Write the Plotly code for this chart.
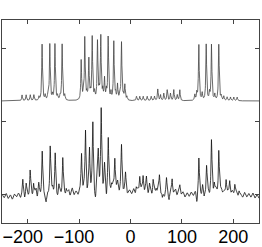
import numpy as np
import plotly.graph_objects as go

# ---------------- data ----------------
x_ticks = [-200, -100, 0, 100, 200]
x_ticktext = ["\u2212200\u00a0\u00a0", "\u2212100\u00a0\u00a0", "0", "100", "200"]

# top (clean) spectrum: baseline level and peaks (position, height)
top_base = 1.288
top_pos = [-211, -203, -195, -188, -178, -172, -166, -161, -157, -152, -147, -142, -137, -133, -128,
           -95.9, -92, -88.9, -85, -81.1, -78, -74.5, -70, -64.2, -61, -57.8, -54, -50.6, -47, -43.4,
           -38, -32.5, -29, -25.3, -21, -17.5, -14, -11.1, -7,
           11.7, 18.1, 24.7, 32.5, 40.3, 46.7, 53.1, 58.4, 64.8, 71.4, 77.8, 84.2, 90.9, 95.9,
           125.1, 129, 132.9, 139.4, 147.3, 153.7, 157.6, 164, 171.8, 176.4, 181.6, 188, 194.6, 201, 207.5]
top_h = [0.08, 0.08, 0.08, 0.08, 0.05, 0.77, 0.07, 0.06, 0.77, 0.07, 0.77, 0.06, 0.06, 0.77, 0.07,
         0.55, 0.08, 0.86, 0.08, 0.56, 0.08, 0.86, 0.10, 0.80, 0.10, 0.87, 0.12, 0.29, 0.12, 0.87,
         0.10, 0.80, 0.08, 0.21, 0.08, 0.79, 0.06, 0.21, 0.05,
         0.06, 0.06, 0.06, 0.06, 0.06, 0.06, 0.16, 0.08, 0.10, 0.15, 0.10, 0.15, 0.08, 0.15,
         0.08, 0.10, 0.77, 0.10, 0.77, 0.10, 0.77, 0.08, 0.77, 0.06, 0.06, 0.05, 0.05, 0.05, 0.05]

# bottom (noisy) spectrum: peaks / dips (position, height)
bot_base = -0.02
bot_pos = [-209.5, -203, -195.2, -188.7, -183.5, -178.4, -171.8, -164, -156.2, -151.1, -146.5, -139.5,
           -131.7, -125.1, -120, -113,
           -95.3, -87.5, -84, -79.8, -73.3, -68, -62.8, -57, -50.6, -47, -43.4, -37, -30.5, -25,
           -17.5, -9.7,
           11, 18.1, 24.6, 31, 37, 44, 50, 56.4, 62, 70, 75, 81, 88, 96,
           129, 133, 140, 143, 148, 157.6, 163, 171.8, 177, 186, 193, 203, 211]
bot_h = [0.21, 0.14, 0.32, 0.18, 0.11, 0.15, 0.60, -0.10, 0.67, 0.10, 0.55, 0.12,
         0.50, 0.10, 0.06, 0.05,
         0.55, 0.86, -0.06, 0.59, 0.89, -0.14, 0.58, 1.07, 0.32, -0.10, 0.71, 0.10, 0.48, 0.10,
         0.59, 0.23,
         0.10, 0.23, 0.23, 0.18, 0.10, 0.18, 0.08, 0.26, -0.10, 0.18, -0.08, 0.23, 0.06, 0.12,
         -0.10, 0.48, 0.12, -0.10, 0.38, 0.71, 0.15, 0.59, 0.08, 0.23, 0.20, 0.15, 0.08]

# broad baseline humps of the bottom spectrum (centre, height, width)
hump_pos = [-52, 45, 170]
hump_h = [0.06, 0.04, 0.03]
hump_w = [45, 50, 40]

# baseline wiggles of the bottom spectrum, one value every 4 units from -250 to 250
noise = [
    0.03, -0.02, 0.04, -0.03, 0.02, -0.04, 0.03, -0.01, 0.04, -0.03,
    0.02, -0.05, 0.04, -0.02, 0.05, -0.04, 0.03, -0.06, 0.02, -0.03,
    0.04, -0.05, 0.03, -0.02, 0.05, -0.03, 0.02, -0.05, 0.04, -0.02,
    0.03, -0.04, 0.02, -0.03, 0.04, -0.02, 0.03, -0.03, 0.02, -0.04,
    0.05, -0.06, 0.04, -0.05, 0.06, -0.07, 0.05, -0.04, 0.06, -0.05,
    0.04, -0.06, 0.05, -0.04, 0.06, -0.05, 0.03, -0.04, 0.05, -0.03,
    0.03, -0.04, 0.02, -0.03, 0.04, -0.05, 0.03, -0.02, 0.04, -0.03,
    0.05, -0.04, 0.03, -0.05, 0.04, -0.03, 0.05, -0.04, 0.03, -0.05,
    0.04, -0.03, 0.05, -0.04, 0.02, -0.03, 0.04, -0.02, 0.03, -0.04,
    0.02, -0.03, 0.03, -0.02, 0.04, -0.05, 0.03, -0.04, 0.05, -0.03,
    0.04, -0.05, 0.03, -0.04, 0.05, -0.03, 0.04, -0.02, 0.03, -0.04,
    0.02, -0.03, 0.04, -0.02, 0.03, -0.04, 0.02, -0.03, 0.04, -0.02,
    0.03, -0.02, 0.04, -0.03, 0.02, -0.03,
]

# ---------------- build line shapes ----------------
x = np.arange(-250, 250.001, 0.25)


def lorentz(c, h, w):
    return h * w ** 2 / ((x - c) ** 2 + w ** 2)


y_top = np.full_like(x, top_base)
for c, h in zip(top_pos, top_h):
    y_top += lorentz(c, h, 0.9)

y_bot = np.full_like(x, bot_base)
for c, h in zip(bot_pos, bot_h):
    y_bot += lorentz(c, h, 1.1)
for c, h, w in zip(hump_pos, hump_h, hump_w):
    y_bot += h * np.exp(-0.5 * ((x - c) / w) ** 2)
for i, h in enumerate(noise):
    c = -250 + 4 * i
    y_bot += h * np.exp(-0.5 * ((x - c) / 1.3) ** 2)

fig = go.Figure()
fig.add_trace(go.Scatter(x=x, y=y_top, mode="lines",
                         line=dict(color="#444", width=0.8), showlegend=False))
fig.add_trace(go.Scatter(x=x, y=y_bot, mode="lines",
                         line=dict(color="#111", width=0.8), showlegend=False))

axis_common = dict(showline=True, linecolor="#444", linewidth=1, mirror="ticks",
                   ticks="inside", ticklen=4, tickcolor="#444", showgrid=False,
                   zeroline=False, automargin=False)
fig.update_layout(
    width=262, height=247,
    margin=dict(l=2, r=3, t=20, b=24),
    paper_bgcolor="white", plot_bgcolor="white",
    font=dict(family="Liberation Sans, Arial, sans-serif", size=18, color="black"),
    xaxis=dict(range=[-250, 250], tickvals=x_ticks, ticktext=x_ticktext, tickangle=0,
               ticklabelstandoff=-3, **axis_common),
    yaxis=dict(range=[-0.384, 2.397], tickvals=[0, 1, 2], showticklabels=False, **axis_common),
)
fig.write_html("out.html", config={"displayModeBar": False},
               post_script="document.body.style.margin='0';document.body.style.overflow='hidden';")
